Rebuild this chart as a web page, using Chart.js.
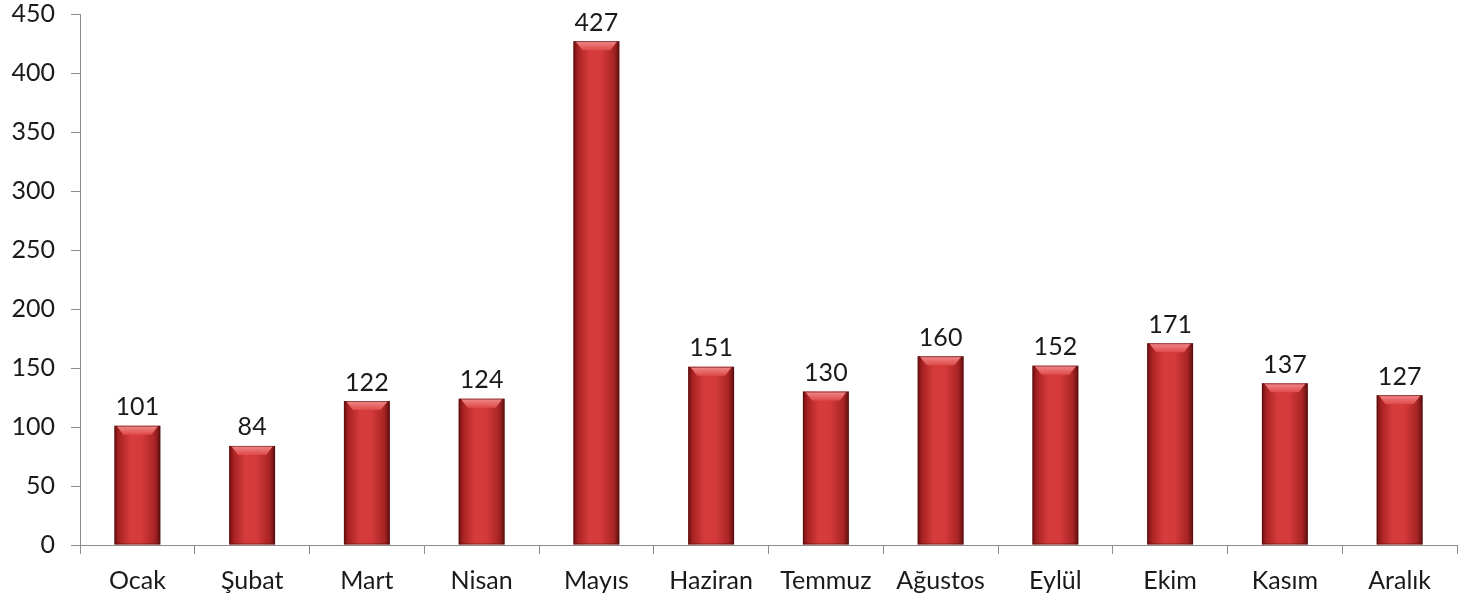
<!DOCTYPE html>
<html>
<head>
<meta charset="utf-8">
<script src="https://cdn.jsdelivr.net/npm/chart.js@4"></script>
<style>
  html, body { margin: 0; padding: 0; background: #fff; }
  #wrap { width: 1474px; height: 603px; position: relative; }
</style>
</head>
<body>
<div id="wrap"><canvas id="chart"></canvas></div>
<script>
// aylar ve değerler
const months = ['Ocak', 'Şubat', 'Mart', 'Nisan', 'Mayıs', 'Haziran', 'Temmuz', 'Ağustos', 'Eylül', 'Ekim', 'Kasım', 'Aralık'];
const counts = [101, 84, 122, 124, 427, 151, 130, 160, 152, 171, 137, 127];
const yTicks = [0, 50, 100, 150, 200, 250, 300, 350, 400, 450];

const FONT = 'Lato, "Open Sans", sans-serif';
const BAR_SHARE = 0.4;

// Sütun gradyanı: kenarlar koyu, orta açık
function barGradient(context) {
    const chart = context.chart;
    const xs = chart.scales.x;
    if (!chart.chartArea || !xs || context.dataIndex === undefined) return '#c83232';
    const cx = xs.getPixelForValue(context.dataIndex);
    const w = xs.width / months.length * BAR_SHARE;
    const g = chart.ctx.createLinearGradient(cx - w / 2, 0, cx + w / 2, 0);
    g.addColorStop(0, '#6e1010');
    g.addColorStop(0.1, '#a82222');
    g.addColorStop(0.35, '#d63c3c');
    g.addColorStop(0.6, '#d43a3a');
    g.addColorStop(0.88, '#a82424');
    g.addColorStop(1, '#601010');
    return g;
}

// Üst eğim ve değer etiketleri
const barDecor = {
    id: 'barDecor',
    afterDatasetsDraw(chart) {
        const ctx = chart.ctx;
        const meta = chart.getDatasetMeta(0);
        ctx.save();
        meta.data.forEach((bar, i) => {
            const w = bar.width;
            const l = bar.x - w / 2;
            const r = bar.x + w / 2;
            const t = bar.y;
            const bev = 9;
            // üst kenar parlaklığı
            const g = ctx.createLinearGradient(0, t, 0, t + bev);
            g.addColorStop(0, '#f28a8a');
            g.addColorStop(1, '#de4a4a');
            ctx.fillStyle = g;
            ctx.beginPath();
            ctx.moveTo(l + 2, t);
            ctx.lineTo(r - 2, t);
            ctx.lineTo(r - bev, t + bev);
            ctx.lineTo(l + bev, t + bev);
            ctx.closePath();
            ctx.fill();
            // ince koyu çerçeve
            ctx.strokeStyle = 'rgba(80,10,10,0.55)';
            ctx.lineWidth = 1;
            ctx.strokeRect(l + 0.5, t + 0.5, w - 1, bar.base - t - 1);

            ctx.fillStyle = '#1a1a1a';
            ctx.font = '25px ' + FONT;
            ctx.textAlign = 'center';
            ctx.textBaseline = 'bottom';
            ctx.fillText(String(counts[i]), bar.x, t - 6);
        });
        ctx.restore();
    }
};

document.addEventListener('DOMContentLoaded', function() {
    const ctx = document.getElementById('chart');
    new Chart(ctx, {
        type: 'bar',
        data: {
            labels: months,
            datasets: [{
                data: counts,
                backgroundColor: barGradient,
                borderWidth: 0,
                barPercentage: 1,
                categoryPercentage: BAR_SHARE
            }]
        },
        options: {
            responsive: true,
            maintainAspectRatio: false,
            animation: false,
            layout: { padding: { top: 14, right: 17, bottom: 0, left: 0 } },
            plugins: {
                legend: { display: false },
                tooltip: { enabled: false }
            },
            scales: {
                x: {
                    grid: {
                        offset: true,
                        drawOnChartArea: false,
                        drawTicks: true,
                        tickLength: 9,
                        color: '#8c8c8c'
                    },
                    border: { display: true, color: '#8c8c8c', width: 1 },
                    ticks: {
                        color: '#1a1a1a',
                        font: { family: FONT, size: 25 },
                        padding: 12,
                        maxRotation: 0,
                        autoSkip: false
                    },
                    afterFit(scale) { scale.height = 58; }
                },
                y: {
                    min: 0,
                    max: 450,
                    afterBuildTicks(scale) {
                        scale.ticks = yTicks.map(v => ({ value: v }));
                    },
                    grid: {
                        drawOnChartArea: false,
                        drawTicks: true,
                        tickLength: 9,
                        color: '#8c8c8c'
                    },
                    border: { display: true, color: '#8c8c8c', width: 1 },
                    ticks: {
                        color: '#1a1a1a',
                        font: { family: FONT, size: 25 },
                        padding: 16
                    },
                    afterFit(scale) {
                        scale.width = 80;
                        scale.paddingTop = 0;
                        scale.paddingBottom = 0;
                    }
                }
            }
        },
        plugins: [barDecor]
    });
});
</script>
</body>
</html>
